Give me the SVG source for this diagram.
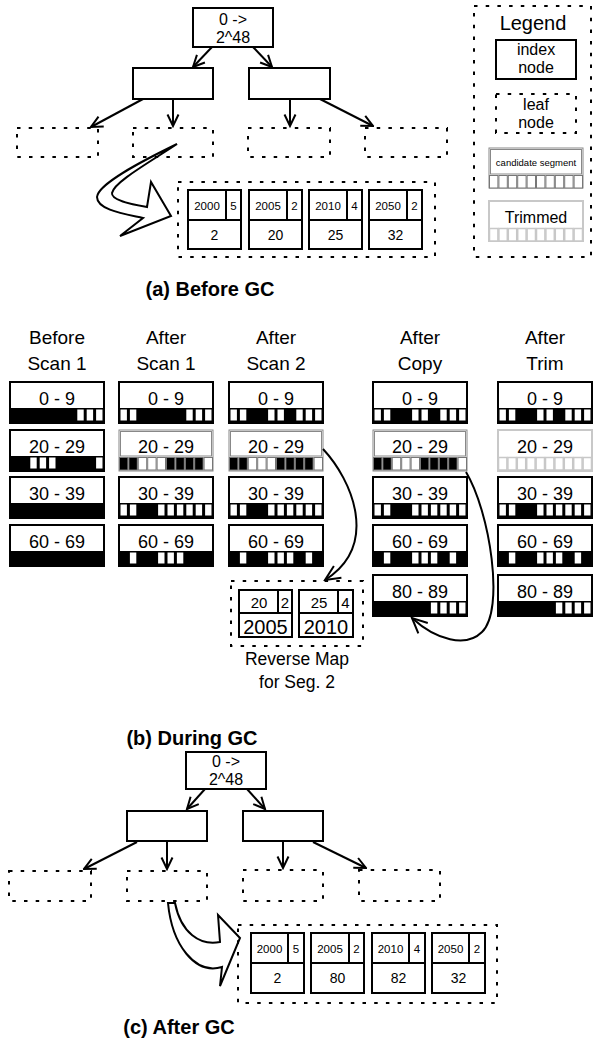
<svg xmlns="http://www.w3.org/2000/svg" xmlns:xlink="http://www.w3.org/1999/xlink" width="600" height="1049" viewBox="0 0 600 1049">
<style>
.box{fill:#fff;stroke:#000;stroke-width:2}
.leaf{fill:none;stroke:#000;stroke-width:2;stroke-dasharray:3.5 8.2}
.ln{fill:none;stroke:#000;stroke-width:2}
.t{font-family:"Liberation Sans",Arial,Helvetica,sans-serif;text-anchor:middle;fill:#000}
.h{font-size:19px}
.s{font-size:18px}
.k{font-size:11.5px}
.v{font-size:14px}
.b{font-size:20px;font-weight:bold}
.conn path,.conn line{fill:none;stroke:#000;stroke-width:2}
</style>
<defs>
<marker id="av" viewBox="0 0 14 14" refX="12.5" refY="7" markerWidth="14" markerHeight="14" markerUnits="userSpaceOnUse" orient="auto">
<path d="M1,1.5 L12.5,7 L1,12.5" fill="none" stroke="#000" stroke-width="2"/>
</marker>
<marker id="av2" viewBox="0 0 18 18" refX="16" refY="9" markerWidth="18" markerHeight="18" markerUnits="userSpaceOnUse" orient="auto">
<path d="M1,2 L16,9 L1,16" fill="none" stroke="#000" stroke-width="2"/>
</marker>
<rect id="w" x="0" y="27.5" width="6.4" height="11" fill="#fff"/>
<rect id="cb" x="0" y="27.5" width="8.4" height="12.5" fill="#000" stroke="#777" stroke-width="1"/>
<rect id="cw" x="0" y="27.5" width="8.4" height="12.5" fill="#fff" stroke="#777" stroke-width="1"/>
<rect id="tw" x="0" y="27.5" width="8.4" height="12.5" fill="#fff" stroke="#c8c8c8" stroke-width="1.5"/>
<g id="seg">
<rect class="box" x="0" y="0" width="94" height="41"/>
<rect x="0" y="26" width="94" height="15" fill="#000"/>
</g>
<g id="cand">
<rect x="0" y="0" width="94" height="41" fill="#fff" stroke="#888" stroke-width="1"/>
<rect x="1.5" y="1.5" width="91" height="24.5" fill="none" stroke="#888" stroke-width="1"/>
</g>
</defs>

<!-- ===== (a) Before GC ===== -->
<g id="a-root"><rect class="box" x="193" y="8" width="80" height="39"/><text class="t" x="233" y="25" font-size="16">0 -&gt;</text><text class="t" x="233" y="43" font-size="16">2^48</text></g>
<g id="a-idx1"><rect class="box" x="133" y="68" width="80" height="31"/></g>
<g id="a-idx2"><rect class="box" x="249" y="68" width="81" height="31"/></g>
<g id="a-leaf1"><rect class="leaf" x="17" y="128" width="81" height="29"/></g>
<g id="a-leaf2"><rect class="leaf" x="133" y="128" width="80" height="29"/></g>
<g id="a-leaf3"><rect class="leaf" x="248" y="128" width="82" height="29"/></g>
<g id="a-leaf4"><rect class="leaf" x="365" y="128" width="82" height="29"/></g>
<g id="a-map">
<rect class="leaf" x="178" y="182" width="257" height="75"/>
<g transform="translate(188,190)"><rect class="box" width="53" height="59"/><line class="ln" x1="0" y1="30" x2="53" y2="30"/><line class="ln" x1="38" y1="0" x2="38" y2="30"/><text class="t k" x="19" y="20">2000</text><text class="t k" x="45.5" y="20">5</text><text class="t v" x="26.5" y="50">2</text></g>
<g transform="translate(249,190)"><rect class="box" width="53" height="59"/><line class="ln" x1="0" y1="30" x2="53" y2="30"/><line class="ln" x1="38" y1="0" x2="38" y2="30"/><text class="t k" x="19" y="20">2005</text><text class="t k" x="45.5" y="20">2</text><text class="t v" x="26.5" y="50">20</text></g>
<g transform="translate(309,190)"><rect class="box" width="53" height="59"/><line class="ln" x1="0" y1="30" x2="53" y2="30"/><line class="ln" x1="38" y1="0" x2="38" y2="30"/><text class="t k" x="19" y="20">2010</text><text class="t k" x="45.5" y="20">4</text><text class="t v" x="26.5" y="50">25</text></g>
<g transform="translate(369,190)"><rect class="box" width="53" height="59"/><line class="ln" x1="0" y1="30" x2="53" y2="30"/><line class="ln" x1="38" y1="0" x2="38" y2="30"/><text class="t k" x="19" y="20">2050</text><text class="t k" x="45.5" y="20">2</text><text class="t v" x="26.5" y="50">32</text></g>
</g>
<g id="a-connectors" class="conn">
<line x1="212" y1="47" x2="193" y2="67" marker-end="url(#av)"/>
<line x1="253" y1="47" x2="272" y2="67" marker-end="url(#av)"/>
<line x1="143" y1="99" x2="91" y2="127" marker-end="url(#av)"/>
<line x1="173" y1="99" x2="173" y2="126" marker-end="url(#av)"/>
<line x1="290" y1="99" x2="290" y2="126" marker-end="url(#av)"/>
<line x1="320" y1="99" x2="373" y2="126" marker-end="url(#av)"/>
<path d="M177,144 C140,162 98,184 97,197 C97,210 125,214 143,218 L120,236 L171,216 L151,182 L147,207 C130,204 111,200 112,193 C114,182 150,162 177,144 Z" fill="#fff"/>
</g>

<!-- Legend -->
<g id="legend">
<rect class="leaf" x="474" y="6" width="117" height="251"/>
<text class="t" x="533" y="30" font-size="20">Legend</text>
<g id="legend-index"><rect class="box" x="496" y="40" width="80" height="39"/><text class="t" x="536" y="55" font-size="16">index</text><text class="t" x="536" y="73" font-size="16">node</text></g>
<g id="legend-leaf"><rect class="leaf" x="496" y="94" width="80" height="39"/><text class="t" x="536" y="110" font-size="16">leaf</text><text class="t" x="536" y="128" font-size="16">node</text></g>
<g id="legend-cand" transform="translate(489,148)">
<rect x="0" y="0" width="94" height="40" fill="#fff" stroke="#888" stroke-width="1"/>
<rect x="1.5" y="1.5" width="91" height="24.5" fill="none" stroke="#888" stroke-width="1"/>
<use href="#cw" x="0.5"/><use href="#cw" x="9.9"/><use href="#cw" x="19.3"/><use href="#cw" x="28.7"/><use href="#cw" x="38.1"/><use href="#cw" x="47.5"/><use href="#cw" x="56.9"/><use href="#cw" x="66.3"/><use href="#cw" x="75.7"/><use href="#cw" x="85.1"/>
<text class="t" x="47" y="18" font-size="9.5">candidate segment</text>
</g>
<g id="legend-trim" transform="translate(489,201)">
<rect x="0" y="0" width="94" height="40" fill="#fff" stroke="#c8c8c8" stroke-width="2"/>
<use href="#tw" x="0.5"/><use href="#tw" x="9.9"/><use href="#tw" x="19.3"/><use href="#tw" x="28.7"/><use href="#tw" x="38.1"/><use href="#tw" x="47.5"/><use href="#tw" x="56.9"/><use href="#tw" x="66.3"/><use href="#tw" x="75.7"/><use href="#tw" x="85.1"/>
<text class="t" x="47" y="22" font-size="16">Trimmed</text>
</g>
</g>

<text class="t b" x="210" y="296">(a) Before GC</text>

<!-- ===== (b) During GC ===== -->
<g id="headings">
<text class="t h" x="57" y="344">Before</text><text class="t h" x="57" y="370">Scan 1</text>
<text class="t h" x="166" y="344">After</text><text class="t h" x="166" y="370">Scan 1</text>
<text class="t h" x="276" y="344">After</text><text class="t h" x="276" y="370">Scan 2</text>
<text class="t h" x="420" y="344">After</text><text class="t h" x="420" y="370">Copy</text>
<text class="t h" x="545" y="344">After</text><text class="t h" x="545" y="370">Trim</text>
</g>

<!-- column 1 -->
<g id="c1-0" transform="translate(10,382)"><use href="#seg"/><use href="#w" x="67.3"/><use href="#w" x="76.7"/><use href="#w" x="86.1"/><text class="t s" x="47" y="22.5">0 - 9</text></g>
<g id="c1-20" transform="translate(10,430)"><use href="#seg"/><use href="#w" x="20.3"/><use href="#w" x="29.7"/><use href="#w" x="39.1"/><use href="#w" x="86.1"/><text class="t s" x="47" y="22.5">20 - 29</text></g>
<g id="c1-30" transform="translate(10,477)"><use href="#seg"/><text class="t s" x="47" y="22.5">30 - 39</text></g>
<g id="c1-60" transform="translate(10,525)"><use href="#seg"/><text class="t s" x="47" y="22.5">60 - 69</text></g>

<!-- column 2 -->
<g id="c2-0" transform="translate(119,382)"><use href="#seg"/><use href="#w" x="1.5"/><use href="#w" x="10.9"/><use href="#w" x="67.3"/><use href="#w" x="76.7"/><use href="#w" x="86.1"/><text class="t s" x="47" y="22.5">0 - 9</text></g>
<g id="c2-20" transform="translate(119,430)"><use href="#cand"/><use href="#cb" x="0.5"/><use href="#cb" x="9.9"/><use href="#cw" x="19.3"/><use href="#cw" x="28.7"/><use href="#cw" x="38.1"/><use href="#cb" x="47.5"/><use href="#cb" x="56.9"/><use href="#cb" x="66.3"/><use href="#cb" x="75.7"/><use href="#cw" x="85.1"/><text class="t s" x="47" y="22.5">20 - 29</text></g>
<g id="c2-30" transform="translate(119,477)"><use href="#seg"/><use href="#w" x="1.5"/><use href="#w" x="10.9"/><use href="#w" x="39.1"/><use href="#w" x="48.5"/><use href="#w" x="57.9"/><use href="#w" x="67.3"/><use href="#w" x="76.7"/><use href="#w" x="86.1"/><text class="t s" x="47" y="22.5">30 - 39</text></g>
<g id="c2-60" transform="translate(119,525)"><use href="#seg"/><use href="#w" x="10.9"/><use href="#w" x="39.1"/><use href="#w" x="48.5"/><use href="#w" x="57.9"/><text class="t s" x="47" y="22.5">60 - 69</text></g>

<!-- column 3 -->
<g id="c3-0" transform="translate(229,382)"><use href="#seg"/><use href="#w" x="1.5"/><use href="#w" x="10.9"/><use href="#w" x="39.1"/><use href="#w" x="48.5"/><use href="#w" x="67.3"/><use href="#w" x="76.7"/><use href="#w" x="86.1"/><text class="t s" x="47" y="22.5">0 - 9</text></g>
<g id="c3-20" transform="translate(229,430)"><use href="#cand"/><use href="#cb" x="0.5"/><use href="#cb" x="9.9"/><use href="#cw" x="19.3"/><use href="#cw" x="28.7"/><use href="#cw" x="38.1"/><use href="#cb" x="47.5"/><use href="#cb" x="56.9"/><use href="#cb" x="66.3"/><use href="#cb" x="75.7"/><use href="#cw" x="85.1"/><text class="t s" x="47" y="22.5">20 - 29</text></g>
<g id="c3-30" transform="translate(229,477)"><use href="#seg"/><use href="#w" x="1.5"/><use href="#w" x="10.9"/><use href="#w" x="39.1"/><use href="#w" x="48.5"/><use href="#w" x="57.9"/><use href="#w" x="67.3"/><use href="#w" x="76.7"/><use href="#w" x="86.1"/><text class="t s" x="47" y="22.5">30 - 39</text></g>
<g id="c3-60" transform="translate(229,525)"><use href="#seg"/><use href="#w" x="10.9"/><use href="#w" x="39.1"/><use href="#w" x="48.5"/><use href="#w" x="57.9"/><use href="#w" x="76.7"/><text class="t s" x="47" y="22.5">60 - 69</text></g>

<!-- column 4 -->
<g id="c4-0" transform="translate(373,382)"><use href="#seg"/><use href="#w" x="1.5"/><use href="#w" x="10.9"/><use href="#w" x="39.1"/><use href="#w" x="48.5"/><use href="#w" x="67.3"/><use href="#w" x="76.7"/><use href="#w" x="86.1"/><text class="t s" x="47" y="22.5">0 - 9</text></g>
<g id="c4-20" transform="translate(373,430)"><use href="#cand"/><use href="#cb" x="0.5"/><use href="#cb" x="9.9"/><use href="#cw" x="19.3"/><use href="#cw" x="28.7"/><use href="#cw" x="38.1"/><use href="#cb" x="47.5"/><use href="#cb" x="56.9"/><use href="#cb" x="66.3"/><use href="#cb" x="75.7"/><use href="#cw" x="85.1"/><text class="t s" x="47" y="22.5">20 - 29</text></g>
<g id="c4-30" transform="translate(373,477)"><use href="#seg"/><use href="#w" x="1.5"/><use href="#w" x="10.9"/><use href="#w" x="39.1"/><use href="#w" x="48.5"/><use href="#w" x="57.9"/><use href="#w" x="67.3"/><use href="#w" x="76.7"/><use href="#w" x="86.1"/><text class="t s" x="47" y="22.5">30 - 39</text></g>
<g id="c4-60" transform="translate(373,525)"><use href="#seg"/><use href="#w" x="10.9"/><use href="#w" x="39.1"/><use href="#w" x="48.5"/><use href="#w" x="57.9"/><use href="#w" x="76.7"/><text class="t s" x="47" y="22.5">60 - 69</text></g>
<g id="c4-80" transform="translate(373,575)"><use href="#seg"/><use href="#w" x="57.9"/><use href="#w" x="67.3"/><use href="#w" x="76.7"/><use href="#w" x="86.1"/><text class="t s" x="47" y="22.5">80 - 89</text></g>

<!-- column 5 -->
<g id="c5-0" transform="translate(498,382)"><use href="#seg"/><use href="#w" x="1.5"/><use href="#w" x="10.9"/><use href="#w" x="39.1"/><use href="#w" x="48.5"/><use href="#w" x="67.3"/><use href="#w" x="76.7"/><use href="#w" x="86.1"/><text class="t s" x="47" y="22.5">0 - 9</text></g>
<g id="c5-20" transform="translate(498,430)"><rect x="0" y="0" width="94" height="41" fill="#fff" stroke="#c8c8c8" stroke-width="2"/><use href="#tw" x="0.5"/><use href="#tw" x="9.9"/><use href="#tw" x="19.3"/><use href="#tw" x="28.7"/><use href="#tw" x="38.1"/><use href="#tw" x="47.5"/><use href="#tw" x="56.9"/><use href="#tw" x="66.3"/><use href="#tw" x="75.7"/><use href="#tw" x="85.1"/><text class="t s" x="47" y="22.5">20 - 29</text></g>
<g id="c5-30" transform="translate(498,477)"><use href="#seg"/><use href="#w" x="1.5"/><use href="#w" x="10.9"/><use href="#w" x="39.1"/><use href="#w" x="48.5"/><use href="#w" x="57.9"/><use href="#w" x="67.3"/><use href="#w" x="76.7"/><use href="#w" x="86.1"/><text class="t s" x="47" y="22.5">30 - 39</text></g>
<g id="c5-60" transform="translate(498,525)"><use href="#seg"/><use href="#w" x="10.9"/><use href="#w" x="39.1"/><use href="#w" x="48.5"/><use href="#w" x="57.9"/><use href="#w" x="76.7"/><text class="t s" x="47" y="22.5">60 - 69</text></g>
<g id="c5-80" transform="translate(498,575)"><use href="#seg"/><use href="#w" x="57.9"/><use href="#w" x="67.3"/><use href="#w" x="76.7"/><use href="#w" x="86.1"/><text class="t s" x="47" y="22.5">80 - 89</text></g>

<!-- reverse map -->
<g id="revmap">
<rect class="leaf" x="231" y="581" width="132" height="65"/>
<g transform="translate(239,590)"><rect class="box" width="53" height="47"/><line class="ln" x1="0" y1="23" x2="53" y2="23"/><line class="ln" x1="39" y1="0" x2="39" y2="23"/><text class="t" x="20" y="18" font-size="15">20</text><text class="t" x="46" y="18" font-size="15">2</text><text class="t" x="26.5" y="44" font-size="20">2005</text></g>
<g transform="translate(299,590)"><rect class="box" width="54" height="47"/><line class="ln" x1="0" y1="23" x2="54" y2="23"/><line class="ln" x1="39" y1="0" x2="39" y2="23"/><text class="t" x="20" y="18" font-size="15">25</text><text class="t" x="46.5" y="18" font-size="15">4</text><text class="t" x="27" y="44" font-size="20">2010</text></g>
<text class="t" x="297" y="665" font-size="17.5">Reverse Map</text>
<text class="t" x="297" y="688" font-size="17.5">for Seg. 2</text>
</g>

<g id="b-connectors" class="conn">
<path d="M323,449 C352,480 380,545 325,580" marker-end="url(#av2)"/>
<path d="M466,472 C490,512 505,610 482,632 C466,648 436,640 412,618" marker-end="url(#av2)"/>
</g>

<!-- ===== (c) After GC ===== -->
<g id="c-root"><rect class="box" x="186" y="752" width="80" height="37"/><text class="t" x="226" y="767" font-size="16">0 -&gt;</text><text class="t" x="226" y="785" font-size="16">2^48</text></g>
<g id="c-idx1"><rect class="box" x="127" y="811" width="80" height="30"/></g>
<g id="c-idx2"><rect class="box" x="243" y="811" width="80" height="30"/></g>
<g id="c-leaf1"><rect class="leaf" x="9" y="871" width="82" height="30"/></g>
<g id="c-leaf2"><rect class="leaf" x="127" y="871" width="80" height="30"/></g>
<g id="c-leaf3"><rect class="leaf" x="243" y="870" width="80" height="31"/></g>
<g id="c-leaf4"><rect class="leaf" x="359" y="870" width="81" height="31"/></g>
<g id="c-map">
<rect class="leaf" x="238" y="925" width="259" height="78"/>
<g transform="translate(251,933)"><rect class="box" width="53" height="60"/><line class="ln" x1="0" y1="30" x2="53" y2="30"/><line class="ln" x1="37" y1="0" x2="37" y2="30"/><text class="t k" x="18.5" y="20">2000</text><text class="t k" x="45" y="20">5</text><text class="t v" x="26.5" y="50">2</text></g>
<g transform="translate(311,933)"><rect class="box" width="53" height="60"/><line class="ln" x1="0" y1="30" x2="53" y2="30"/><line class="ln" x1="38" y1="0" x2="38" y2="30"/><text class="t k" x="19" y="20">2005</text><text class="t k" x="45.5" y="20">2</text><text class="t v" x="26.5" y="50">80</text></g>
<g transform="translate(372,933)"><rect class="box" width="53" height="60"/><line class="ln" x1="0" y1="30" x2="53" y2="30"/><line class="ln" x1="37" y1="0" x2="37" y2="30"/><text class="t k" x="18.5" y="20">2010</text><text class="t k" x="45" y="20">4</text><text class="t v" x="26.5" y="50">82</text></g>
<g transform="translate(432,933)"><rect class="box" width="53" height="60"/><line class="ln" x1="0" y1="30" x2="53" y2="30"/><line class="ln" x1="37" y1="0" x2="37" y2="30"/><text class="t k" x="18.5" y="20">2050</text><text class="t k" x="45" y="20">2</text><text class="t v" x="26.5" y="50">32</text></g>
</g>
<g id="c-connectors" class="conn">
<line x1="205" y1="789" x2="187" y2="809" marker-end="url(#av)"/>
<line x1="247" y1="789" x2="265" y2="809" marker-end="url(#av)"/>
<line x1="137" y1="842" x2="84" y2="869" marker-end="url(#av)"/>
<line x1="167" y1="842" x2="167" y2="869" marker-end="url(#av)"/>
<line x1="283" y1="842" x2="283" y2="868" marker-end="url(#av)"/>
<line x1="313" y1="842" x2="366" y2="868" marker-end="url(#av)"/>
<path d="M168,903 C172,945 195,975 222,967 L220,986 L240,938 L218,915 L220,942 C200,946 181,933 175,903 Z" fill="#f3f3fc"/>
</g>

<text class="t b" x="192" y="745">(b) During GC</text>
<text class="t b" x="179" y="1034">(c) After GC</text>
</svg>
